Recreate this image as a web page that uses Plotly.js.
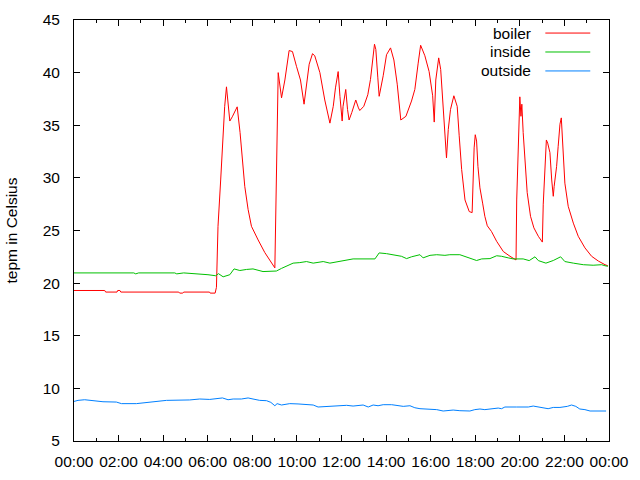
<!DOCTYPE html>
<html>
<head>
<meta charset="utf-8">
<script src="https://cdn.plot.ly/plotly-3.0.1.min.js"></script>
<style>html,body{margin:0;padding:0;background:#fff;}#chart{width:640px;height:480px;}</style>
</head>
<body>
<div id="chart"></div>
<script>
// time in hours since 00:00
var boilerT = [0,1.38,1.42,1.93,1.96,2.06,2.1,4.7,4.74,4.88,4.92,6.08,6.11,6.33,6.39,6.46,6.58,6.69,6.76,6.84,6.99,7.1,7.2,7.32,7.45,7.56,7.66,7.81,7.96,8.26,8.56,9.01,9.16,9.31,9.46,9.65,9.80,9.98,10.16,10.32,10.43,10.55,10.70,10.80,11.03,11.25,11.48,11.63,11.73,11.85,11.93,11.98,12.03,12.07,12.19,12.27,12.34,12.46,12.64,12.76,12.82,13.00,13.18,13.30,13.42,13.48,13.54,13.57,13.63,13.69,13.87,14.02,14.20,14.35,14.50,14.66,14.89,15.14,15.29,15.44,15.55,15.74,15.93,16.09,16.16,16.23,16.36,16.45,16.59,16.71,16.79,16.89,17.04,17.19,17.28,17.39,17.54,17.73,17.86,17.91,17.95,18.00,18.06,18.12,18.21,18.33,18.43,18.54,18.73,18.96,19.26,19.56,19.75,19.83,19.86,19.93,20.00,20.05,20.09,20.15,20.23,20.33,20.48,20.63,20.83,21.01,21.05,21.13,21.19,21.25,21.35,21.43,21.50,21.54,21.65,21.72,21.80,21.86,21.92,22.02,22.17,22.40,22.62,22.92,23.22,23.52,23.82,23.95];
var boilerV = [19.3,19.3,19.15,19.15,19.3,19.3,19.15,19.15,19.05,19.05,19.15,19.15,19.05,19.05,19.6,25.4,29.8,34.6,36.8,38.65,35.4,35.8,36.2,36.75,34.3,31.4,29.2,27.0,25.4,24.1,22.9,21.45,40.0,37.6,39.3,42.1,42.0,40.6,39.3,37.0,39.0,40.8,41.8,41.6,40.0,37.4,35.2,36.8,38.55,40.1,37.75,36.2,35.4,36.8,38.4,36.5,35.5,36.2,37.4,36.65,36.4,36.8,37.9,39.35,41.9,42.7,42.2,40.9,39.5,37.75,39.7,41.7,42.35,41.2,38.9,35.5,35.85,37.3,38.4,40.9,42.6,41.6,40.1,37.8,35.3,39.3,41.4,40.3,36.2,31.9,34.6,36.5,37.8,36.8,34.0,30.8,27.9,26.8,26.7,30.3,32.85,34.1,33.5,31.1,29.05,27.6,26.35,25.45,24.9,23.97,23.0,22.55,22.3,22.2,27.9,34.0,37.7,35.85,37.0,34.3,31.7,28.6,26.35,25.25,24.45,23.9,27.5,31.4,33.6,33.3,32.4,29.8,28.25,29.2,31.1,33.0,35.1,35.7,33.0,29.5,27.3,25.7,24.45,23.35,22.55,22.1,21.75,21.65];

var insideT = [0,2.68,2.77,2.90,4.52,4.61,4.92,5.87,6.01,6.36,6.48,6.69,6.99,7.18,7.44,7.74,8.03,8.48,9.08,9.31,9.83,10.13,10.43,10.73,11.18,11.48,11.85,12.07,12.52,13.50,13.69,14.02,14.47,14.69,14.92,15.14,15.52,15.66,15.97,16.27,16.64,16.86,17.31,17.76,18.06,18.29,18.66,18.96,19.18,19.48,19.70,20.15,20.42,20.68,20.83,21.17,21.50,21.83,22.02,22.40,22.85,23.29,23.67,23.82,23.95];
var insideV = [20.97,20.97,20.88,20.97,20.97,20.88,20.97,20.88,20.8,20.7,20.9,20.6,20.8,21.35,21.2,21.3,21.35,21.1,21.15,21.4,21.9,21.95,22.05,21.9,22.05,21.9,22.05,22.15,22.3,22.3,22.87,22.8,22.6,22.55,22.33,22.5,22.7,22.4,22.64,22.7,22.64,22.7,22.7,22.33,22.15,22.3,22.33,22.6,22.55,22.4,22.3,22.3,22.14,22.5,22.14,21.9,22.15,22.5,22.05,21.9,21.75,21.7,21.75,21.65,21.6];

var outsideT = [0,0.18,0.48,0.85,1.30,1.90,2.13,2.80,3.25,3.62,4.15,5.19,5.64,6.09,6.39,6.66,6.91,7.14,7.51,7.81,8.03,8.33,8.64,8.83,9.01,9.11,9.31,9.68,10.05,10.43,10.73,10.95,11.33,11.62,12.23,12.52,12.97,13.20,13.42,13.64,13.87,14.25,14.77,15.07,15.29,15.52,15.97,16.27,16.56,17.01,17.31,17.76,17.98,18.21,18.43,18.73,19.03,19.18,19.33,19.86,20.38,20.60,20.90,21.27,21.50,21.80,22.13,22.32,22.51,22.69,22.92,23.15,23.87];
var outsideV = [8.76,8.86,8.92,8.83,8.73,8.70,8.55,8.55,8.64,8.76,8.86,8.9,8.99,8.95,9.02,9.09,8.92,8.99,8.99,9.09,8.99,8.86,8.83,8.67,8.35,8.55,8.42,8.55,8.52,8.48,8.42,8.23,8.29,8.35,8.39,8.32,8.42,8.23,8.42,8.35,8.45,8.45,8.29,8.35,8.16,8.07,8.04,7.98,7.85,7.94,7.88,7.85,7.98,8.04,7.98,8.04,8.13,8.07,8.23,8.23,8.23,8.32,8.23,8.07,8.19,8.19,8.29,8.42,8.29,8.04,7.98,7.85,7.85];

var seriesNames = ["boiler","inside","outside"];
var seriesColors = ["#ff0000","#00c000","#0080ff"];
var xTickVals = [0,2,4,6,8,10,12,14,16,18,20,22,24];
var xTickText = ["00:00","02:00","04:00","06:00","08:00","10:00","12:00","14:00","16:00","18:00","20:00","22:00","00:00"];
var xMinorVals = [1,3,5,7,9,11,13,15,17,19,21,23];
var yTickVals = [5,10,15,20,25,30,35,40,45];
var yTitle = "tepm in Celsius";

var xs = [boilerT, insideT, outsideT];
var ys = [boilerV, insideV, outsideV];
var traces = [];
for (var i = 0; i < 3; i++) {
  traces.push({x: xs[i], y: ys[i], type: 'scatter', mode: 'lines', name: seriesNames[i],
    line: {color: seriesColors[i], width: 1}, showlegend: false, hoverinfo: 'skip'});
}

var FONT = "Liberation Sans, Arial, sans-serif";
var annotations = [], shapes = [];
var rowY = [0.969, 0.924, 0.879];
for (var j = 0; j < 3; j++) {
  annotations.push({xref: 'paper', yref: 'paper', x: 0.858, y: rowY[j], xanchor: 'right', yanchor: 'middle',
    text: seriesNames[j], showarrow: false, font: {family: FONT, size: 15.5, color: '#000'}});
  shapes.push({type: 'line', xref: 'paper', yref: 'paper', x0: 0.881, x1: 0.965, y0: rowY[j], y1: rowY[j],
    line: {color: seriesColors[j], width: 1}});
}

var layout = {
  width: 640, height: 480,
  margin: {l: 74, r: 31, t: 20, b: 39, pad: 0},
  paper_bgcolor: '#fff', plot_bgcolor: '#fff',
  font: {family: FONT, size: 15.5, color: '#000'},
  showlegend: false,
  xaxis: {range: [0, 24], tickmode: 'array', tickvals: xTickVals, ticktext: xTickText,
    ticks: 'inside', ticklen: 6, tickcolor: '#000', showline: true, linecolor: '#000', linewidth: 1,
    mirror: 'allticks', showgrid: false, zeroline: false, ticklabelstandoff: 6,
    minor: {tickmode: 'array', tickvals: xMinorVals, ticks: 'inside', ticklen: 3, tickcolor: '#000', showgrid: false},
    tickfont: {family: FONT, size: 15.5, color: '#000'}},
  yaxis: {range: [5, 45], tickmode: 'array', tickvals: yTickVals,
    ticks: 'inside', ticklen: 6, tickcolor: '#000', showline: true, linecolor: '#000', linewidth: 1,
    mirror: 'allticks', showgrid: false, zeroline: false, ticklabelstandoff: 10,
    tickfont: {family: FONT, size: 15.5, color: '#000'},
    title: {text: yTitle, font: {family: FONT, size: 15.5, color: '#000'}, standoff: 21}},
  annotations: annotations,
  shapes: shapes
};
Plotly.newPlot('chart', traces, layout, {staticPlot: true, displayModeBar: false});
</script>
</body>
</html>
